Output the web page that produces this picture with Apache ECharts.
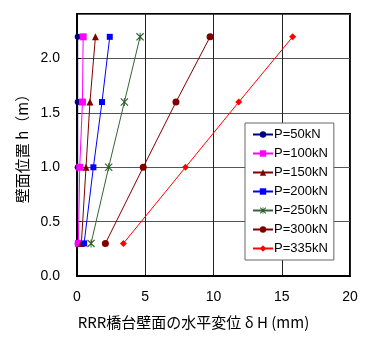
<!DOCTYPE html>
<html>
<head>
<meta charset="utf-8">
<script src="https://cdn.jsdelivr.net/npm/echarts@6/dist/echarts.min.js"></script>
<style>
  html, body { margin: 0; padding: 0; background: #fff; }
  #chart { width: 366px; height: 338px; }
</style>
</head>
<body>
<div id="chart"></div>
<script>
// Wall heights where displacement was measured (m)
const heights = [0.3, 1.0, 1.6, 2.2];

// Horizontal displacement of the abutment wall (mm) at each height, per load step
const seriesNames = ['P=50kN', 'P=100kN', 'P=150kN', 'P=200kN', 'P=250kN', 'P=300kN', 'P=335kN'];
const dispP50  = [0.05, 0.05, 0.05, 0.05];
const dispP100 = [0.10, 0.20, 0.40, 0.45];
const dispP150 = [0.32, 0.66, 0.95, 1.35];
const dispP200 = [0.52, 1.20, 1.83, 2.40];
const dispP250 = [1.03, 2.32, 3.47, 4.62];
const dispP300 = [2.08, 4.85, 7.25, 9.75];
const dispP335 = [3.40, 7.95, 11.85, 15.80];

const xTicks = [0, 5, 10, 15, 20];
const yTicks = [0.0, 0.5, 1.0, 1.5, 2.0];

const allDisp = [dispP50, dispP100, dispP150, dispP200, dispP250, dispP300, dispP335];
const colors = ['#000080', '#FF00FF', '#800000', '#0000FF', '#2E5E2E', '#800000', '#FF0000'];
const lineColors = ['#000080', '#FF00FF', '#800000', '#0000FF', '#336633', '#800000', '#FF0000'];
const asterisk = 'path://M1,0 L5,4 L9,0 L10,1 L6,5 L10,9 L9,10 L5,6 L1,10 L0,9 L4,5 L0,1 Z M4.4,0 L5.6,0 L5.6,10 L4.4,10 Z';
const symbols = ['circle', 'rect', 'triangle', 'rect', asterisk, 'circle', 'diamond'];
const symbolSizes = [6, 7, 7, 6, 8, 7, 7];

const font = '"Liberation Sans", Arial, "Noto Sans CJK JP", sans-serif';

const series = allDisp.map((d, i) => ({
  name: seriesNames[i],
  type: 'line',
  data: d.map((x, k) => [x, heights[k]]),
  symbol: symbols[i],
  symbolSize: symbolSizes[i],
  showSymbol: true,
  lineStyle: { color: lineColors[i], width: 1 },
  itemStyle: { color: colors[i] },
  z: 3 + i
}));

const chart = echarts.init(document.getElementById('chart'), null, { renderer: 'canvas' });
chart.setOption({
  animation: false,
  backgroundColor: '#fff',
  grid: {
    left: 77, right: 16, top: 14, bottom: 62,
    show: true, borderColor: '#000', borderWidth: 2, backgroundColor: 'transparent'
  },
  legend: {
    orient: 'vertical',
    left: 245, top: 123,
    itemGap: 6,
    itemWidth: 20, itemHeight: 8,
    padding: [5, 6, 5, 7],
    backgroundColor: '#fff',
    borderColor: '#666', borderWidth: 1,
    borderRadius: 0,
    textStyle: { fontFamily: font, fontSize: 13, color: '#000', padding: [0, 0, 0, -4] },
    data: seriesNames
  },
  xAxis: {
    type: 'value',
    min: 0, max: 20, interval: 5,
    name: 'RRR橋台壁面の水平変位 δ H (mm)',
    nameLocation: 'middle',
    nameGap: 39,
    nameTextStyle: { fontFamily: '"Noto Sans CJK JP", sans-serif', fontSize: 15, color: '#000', padding: [0, 40, 0, 0] },
    axisLine: { show: true, lineStyle: { color: '#000', width: 2 } },
    axisTick: { show: false },
    axisLabel: { fontFamily: font, fontSize: 14, color: '#000', margin: 14 },
    splitLine: { show: true, lineStyle: { color: '#222', width: 1 } }
  },
  yAxis: {
    type: 'value',
    min: 0, max: 2.41, interval: 0.5,
    name: '壁面位置 h（m）',
    nameLocation: 'middle',
    nameGap: 47,
    nameRotate: 90,
    nameTextStyle: { fontFamily: '"Noto Sans CJK JP", sans-serif', fontSize: 15, color: '#000' },
    axisLine: { show: true, lineStyle: { color: '#000', width: 2 } },
    axisTick: { show: true, inside: true, length: 4, lineStyle: { color: '#000' } },
    axisLabel: {
      fontFamily: font, fontSize: 14, color: '#000', margin: 17,
      showMaxLabel: false,
      formatter: v => yTicks.some(t => Math.abs(t - v) < 1e-6) ? v.toFixed(1) : ''
    },
    splitLine: { show: true, lineStyle: { color: '#555', width: 1 } }
  },
  series: series
});
</script>
</body>
</html>
